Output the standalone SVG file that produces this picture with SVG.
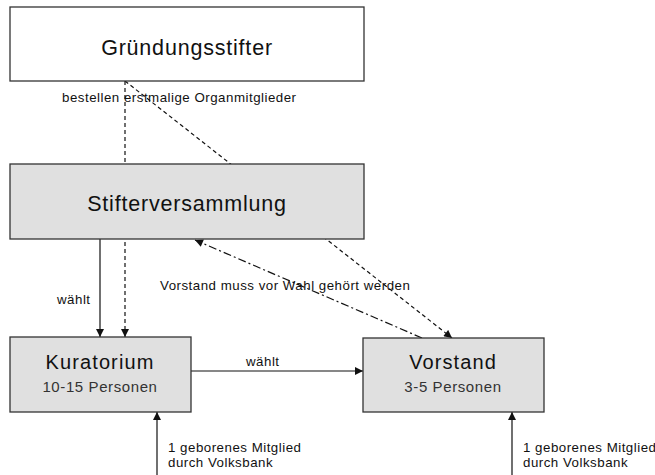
<svg xmlns="http://www.w3.org/2000/svg" width="655" height="475" viewBox="0 0 655 475">
<style>
.box{stroke:#333;stroke-width:1.3}
.gray{fill:#e0e0e0}
.white{fill:#fff}
.t{font-family:"Liberation Sans",Arial,sans-serif;fill:#111}
.big{font-size:21.5px;letter-spacing:0.8px}
.head{font-size:20px;letter-spacing:1.1px}
.sub{font-size:15px;letter-spacing:0.6px;fill:#333}
.lab{font-size:13.3px;letter-spacing:0.5px}
.ln{stroke:#111;stroke-width:1.2;fill:none}
.dash{stroke-dasharray:4 3}
.dd{stroke-dasharray:8 3 2 3}
</style>
<defs>
<marker id="ah" viewBox="0 0 10 10" refX="10" refY="5" markerUnits="userSpaceOnUse" markerWidth="9" markerHeight="8" orient="auto">
<path d="M0,0 L10,5 L0,10 z" fill="#111"/>
</marker>
</defs>
<g id="connectors">
<line class="ln" x1="100" y1="239" x2="100" y2="337" marker-end="url(#ah)"/>
<line class="ln dash" x1="125" y1="81" x2="125" y2="337" marker-end="url(#ah)"/>
<line class="ln dash" x1="125" y1="81" x2="452" y2="338" marker-end="url(#ah)"/>
<line class="ln dd" x1="422" y1="338" x2="195" y2="240" marker-end="url(#ah)"/>
<line class="ln" x1="191" y1="371" x2="363" y2="371" marker-end="url(#ah)"/>
<line class="ln" x1="157" y1="475" x2="157" y2="412" marker-end="url(#ah)"/>
<line class="ln" x1="512" y1="475" x2="512" y2="412" marker-end="url(#ah)"/>
<text class="t lab" x="62" y="102">bestellen erstmalige Organmitglieder</text>
<text class="t lab" x="57" y="304">wählt</text>
<text class="t lab" x="160" y="290">Vorstand muss vor Wahl gehört werden</text>
<text class="t lab" x="246" y="366">wählt</text>
<text class="t lab" x="168" y="452">1 geborenes Mitglied</text>
<text class="t lab" x="168" y="467">durch Volksbank</text>
<text class="t lab" x="523" y="452">1 geborenes Mitglied</text>
<text class="t lab" x="523" y="467">durch Volksbank</text>
</g>
<g id="gruendungsstifter">
<rect class="box white" x="10" y="7" width="354" height="74"/>
<text class="t big" x="187" y="55" text-anchor="middle">Gründungsstifter</text>
</g>
<g id="stifterversammlung">
<rect class="box gray" x="10" y="164" width="354" height="75"/>
<text class="t big" x="187" y="211" text-anchor="middle">Stifterversammlung</text>
</g>
<g id="kuratorium">
<rect class="box gray" x="10" y="337" width="181" height="75"/>
<text class="t head" x="100" y="369" text-anchor="middle">Kuratorium</text>
<text class="t sub" x="100" y="392" text-anchor="middle">10-15 Personen</text>
</g>
<g id="vorstand">
<rect class="box gray" x="363" y="338" width="181" height="74"/>
<text class="t head" x="453" y="369" text-anchor="middle">Vorstand</text>
<text class="t sub" x="453" y="392" text-anchor="middle">3-5 Personen</text>
</g>
</svg>
